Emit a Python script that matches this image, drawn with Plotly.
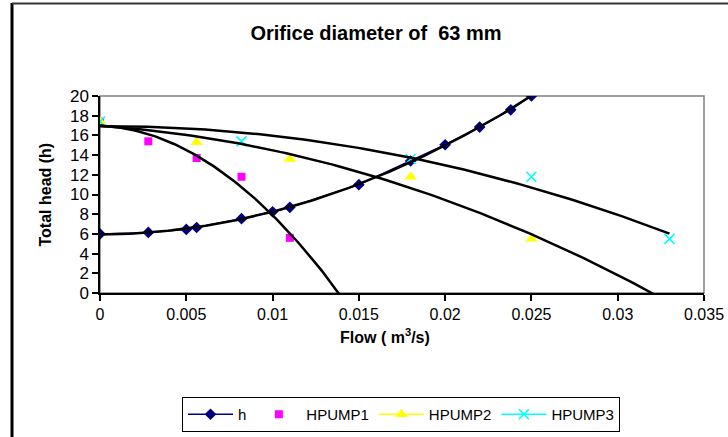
import numpy as np
import plotly.graph_objects as go

# ---- data ----
flow_h = [0, 0.0028, 0.005, 0.0056, 0.0082, 0.01, 0.011, 0.015, 0.018, 0.02, 0.022, 0.0238, 0.025]
head_h = [6.0, 6.15, 6.45, 6.65, 7.55, 8.25, 8.7, 11.0, 13.4, 15.05, 16.85, 18.6, 20.0]

flow_p1 = [0, 0.0028, 0.0056, 0.0082, 0.011]
head_p1 = [17.4, 15.4, 13.7, 11.8, 5.6]

flow_p2 = [0, 0.0056, 0.011, 0.018, 0.025]
head_p2 = [17.4, 15.3, 13.6, 11.8, 5.5]

flow_p3 = [0, 0.0082, 0.018, 0.025, 0.033]
head_p3 = [17.4, 15.4, 13.6, 11.8, 5.5]

# polynomial (order 2) trendline end points (forecast extent)
trend_end_h = 0.026
trend_end_p1 = 0.015
trend_end_p2 = 0.034
trend_end_p3 = 0.033

x_tick_vals = [0, 0.005, 0.01, 0.015, 0.02, 0.025, 0.03, 0.035]
x_tick_text = ["0", "0.005", "0.01", "0.015", "0.02", "0.025", "0.03", "0.035"]
y_tick_vals = [0, 2, 4, 6, 8, 10, 12, 14, 16, 18, 20]

title_text = "Orifice diameter of  63 mm"
x_title = "Flow ( m<sup>3</sup>/s)"
y_title = "Total head (h)"

FONT = "Arial, Liberation Sans, sans-serif"


def trend(xs, ys, xend):
    c = np.polyfit(xs, ys, 2)
    xx = np.linspace(0, xend, 120)
    return xx, np.polyval(c, xx)


fig = go.Figure()

# data series (legend handled by proxies below)
fig.add_trace(go.Scatter(x=flow_h, y=head_h, mode="lines+markers", showlegend=False,
                         line=dict(color="#000080", width=1.5),
                         marker=dict(symbol="diamond", size=9, color="#000080")))
fig.add_trace(go.Scatter(x=flow_p1, y=head_p1, mode="markers", showlegend=False,
                         marker=dict(symbol="square", size=8, color="#FF00FF")))
fig.add_trace(go.Scatter(x=flow_p2, y=head_p2, mode="markers", showlegend=False,
                         marker=dict(symbol="triangle-up", size=11, color="#FFFF00")))
fig.add_trace(go.Scatter(x=flow_p3, y=head_p3, mode="markers", showlegend=False,
                         marker=dict(symbol="x-thin", size=10, color="#00FFFF",
                                     line=dict(color="#00FFFF", width=1.6))))

# black trendlines
for xs, ys, xe in [(flow_h, head_h, trend_end_h), (flow_p1, head_p1, trend_end_p1),
                   (flow_p2, head_p2, trend_end_p2), (flow_p3, head_p3, trend_end_p3)]:
    tx, ty = trend(xs, ys, xe)
    fig.add_trace(go.Scatter(x=tx, y=ty, mode="lines", showlegend=False, hoverinfo="skip",
                             line=dict(color="black", width=2.5)))

# legend proxies
fig.add_trace(go.Scatter(x=[None], y=[None], name="h", mode="lines+markers",
                         line=dict(color="#000080", width=1.5),
                         marker=dict(symbol="diamond", size=9, color="#000080")))
fig.add_trace(go.Scatter(x=[None], y=[None], name="HPUMP1", mode="markers",
                         marker=dict(symbol="square", size=8, color="#FF00FF")))
fig.add_trace(go.Scatter(x=[None], y=[None], name="HPUMP2", mode="lines+markers",
                         line=dict(color="#FFFF00", width=1.5),
                         marker=dict(symbol="triangle-up", size=11, color="#FFFF00")))
fig.add_trace(go.Scatter(x=[None], y=[None], name="HPUMP3", mode="lines+markers",
                         line=dict(color="#00FFFF", width=1.5),
                         marker=dict(symbol="x-thin", size=10, color="#00FFFF",
                                     line=dict(color="#00FFFF", width=1.6))))

L, R, T, B = 100, 24, 96, 144
W, H = 728, 437
pw, ph = W - L - R, H - T - B


def px(xpix):
    return (xpix - L) / pw


def py(ypix):
    return (H - B - ypix) / ph


fig.update_layout(
    width=W, height=H, autosize=False,
    margin=dict(l=L, r=R, t=T, b=B, autoexpand=False),
    paper_bgcolor="white", plot_bgcolor="white",
    font=dict(family=FONT, color="black", size=16),
    title=dict(text="<b>" + title_text + "</b>", x=376 / W, xanchor="center",
               y=1 - 33 / H, yanchor="middle", font=dict(size=20, family=FONT)),
    xaxis=dict(range=[0, 0.035], tickvals=x_tick_vals, ticktext=x_tick_text,
               showgrid=False, zeroline=False, showline=True, linecolor="black", linewidth=1.5,
               ticks="outside", ticklen=6, tickcolor="black", tickwidth=1.5,
               tickfont=dict(size=16), automargin=False),
    yaxis=dict(range=[0, 20], tickvals=y_tick_vals,
               showgrid=False, zeroline=False, showline=True, linecolor="black", linewidth=1.5,
               ticks="outside", ticklen=6, tickcolor="black", tickwidth=1.5,
               tickfont=dict(size=17), automargin=False),
    showlegend=True,
    legend=dict(orientation="h", xref="container", yref="container",
                x=401 / W, xanchor="center", y=1 - 397 / H, yanchor="top",
                bordercolor="black", borderwidth=1, bgcolor="white",
                font=dict(size=15), itemwidth=45, tracegroupgap=0),
    annotations=[
        dict(text="<b>" + y_title + "</b>", xref="paper", yref="paper",
             x=px(45), y=0.5, xanchor="center", yanchor="middle", textangle=-90,
             showarrow=False, font=dict(size=16)),
        dict(text="<b>" + x_title + "</b>", xref="paper", yref="paper",
             x=px(385), y=py(336), xanchor="center", yanchor="middle",
             showarrow=False, font=dict(size=16)),
    ],
    shapes=[
        dict(type="rect", xref="paper", yref="paper", x0=0, x1=1, y0=0, y1=1,
             line=dict(color="#808080", width=1.5), layer="below"),
        dict(type="line", xref="paper", yref="paper", x0=px(12), x1=px(12),
             y0=py(3), y1=py(H + 2), line=dict(color="black", width=3)),
        dict(type="line", xref="paper", yref="paper", x0=px(12), x1=px(W + 2),
             y0=py(3.5), y1=py(3.5), line=dict(color="#333333", width=2)),
    ],
)

fig.write_html("out.html", config={"displayModeBar": False},
               post_script="document.body.style.margin='0';")
